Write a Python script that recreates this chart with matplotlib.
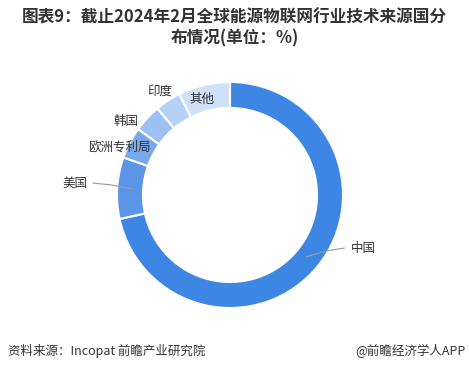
import numpy as np
import matplotlib
matplotlib.use("Agg")
import matplotlib.pyplot as plt

plt.rcParams['font.family'] = ['Noto Sans CJK SC', 'DejaVu Sans']

# 2024年2月 全球能源物联网技术来源国分布 (%)
countries = ['中国', '美国', '欧洲专利局', '韩国', '印度', '其他']
shares = [71.6, 8.8, 4.5, 4.0, 3.7, 7.4]
colors = ['#3d86e3', '#5a95e8', '#78a7ec', '#9cc0f2', '#b5d1f6', '#cfe2fa']

fig = plt.figure(figsize=(4.69, 3.70), dpi=100)

# donut centre at (230, 195) px, outer radius 113 px
cx, cy, r = 230, 195, 113
W, H = 469, 370
ax = fig.add_axes([(cx - r) / W, (H - cy - r) / H, 2 * r / W, 2 * r / H])

wedges, _ = ax.pie(shares, colors=colors, startangle=90, counterclock=False,
                   radius=1.0,
                   wedgeprops=dict(width=0.23, edgecolor='white', linewidth=1.5))
ax.set_xlim(-1, 1)
ax.set_ylim(-1, 1)
ax.set_aspect('equal')
ax.axis('off')

# label placement (x, y, ha, leader line?)
label_pos = {
    '中国': (1.07, -0.47, 'left', True),
    '美国': (-1.26, 0.105, 'right', True),
    '欧洲专利局': (-0.70, 0.425, 'right', False),
    '韩国': (-0.92, 0.65, 'center', False),
    '印度': (-0.62, 0.92, 'center', False),
    '其他': (-0.25, 0.85, 'center', False),
}

for w, name in zip(wedges, countries):
    x, y, ha, leader = label_pos[name]
    ax.text(x, y, name, ha=ha, va='center', fontsize=9, color='#333333',
            clip_on=False)
    if leader:
        mid = np.deg2rad((w.theta1 + w.theta2) / 2)
        x0, y0 = 0.87 * np.cos(mid), 0.87 * np.sin(mid)
        xe = x - 0.06 if ha == 'left' else x + 0.05
        xm = x0 + (xe - x0) * 0.55
        ax.plot([x0, xm, xe], [y0, y + (y0 - y) * 0.3, y], color='#9a9a9a',
                linewidth=0.8, clip_on=False)

fig.text(0.5, 1 - 18 / H, '图表9：截止2024年2月全球能源物联网行业技术来源国分',
         ha='center', va='center', fontsize=12, fontweight='bold', color='#333333')
fig.text(0.5, 1 - 38 / H, '布情况(单位：%)',
         ha='center', va='center', fontsize=12, fontweight='bold', color='#333333')

fig.text(8 / W, 1 - 351 / H, '资料来源：Incopat 前瞻产业研究院',
         ha='left', va='center', fontsize=9, color='#333333')
fig.text(465 / W, 1 - 351 / H, '@前瞻经济学人APP',
         ha='right', va='center', fontsize=9, color='#333333')

fig.savefig('out.png', dpi=100)
